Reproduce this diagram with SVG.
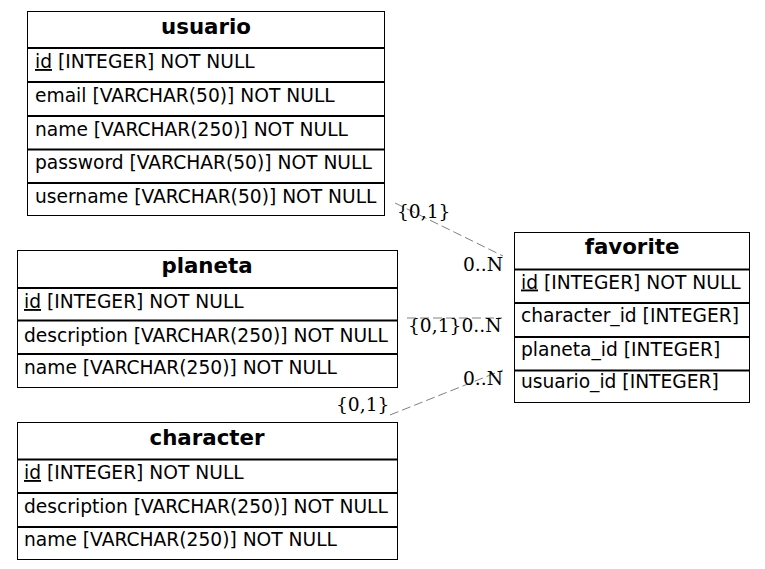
<svg xmlns="http://www.w3.org/2000/svg" width="765" height="569" viewBox="0 0 765 569">
  <style>
    .box { fill: #ffffff; stroke: #000000; stroke-width: 1; }
    .sep { stroke: #000000; stroke-width: 2; }
    .title { font-family: "DejaVu Sans", sans-serif; font-weight: bold; font-size: 21.33px; text-anchor: middle; fill: #000; }
    .col { font-family: "DejaVu Sans", sans-serif; font-size: 18.67px; fill: #000; }
    .pk { text-decoration: underline; }
    .rel { fill: none; stroke: #808080; stroke-width: 1; stroke-dasharray: 9,4; }
    .card { font-family: "DejaVu Serif", serif; font-size: 18.67px; fill: #000; }
  </style>
  <rect width="765" height="569" fill="#ffffff"/>

  <!-- relationships -->
  <g id="connectors">
    <path class="rel" d="M395,203 L503,256"/>
    <path class="rel" d="M407,318 L502,318"/>
    <path class="rel" d="M390,415 L503,370"/>
    <text class="card" x="397" y="218">{0,1}</text>
    <text class="card" x="463" y="271">0..N</text>
    <text class="card" x="408" y="332">{0,1}0..N</text>
    <text class="card" x="463" y="385">0..N</text>
    <text class="card" x="336" y="411">{0,1}</text>
  </g>

  <g id="usuario">
    <rect class="box" x="27.5" y="11.5" width="357" height="204"/>
    <line class="sep" x1="27" y1="48" x2="385" y2="48"/>
    <line class="sep" x1="27" y1="82" x2="385" y2="82"/>
    <line class="sep" x1="27" y1="116" x2="385" y2="116"/>
    <line class="sep" x1="27" y1="149.5" x2="385" y2="149.5"/>
    <line class="sep" x1="27" y1="183" x2="385" y2="183"/>
    <text class="title" x="206" y="34">usuario</text>
    <text class="col" x="35" y="68"><tspan class="pk">id</tspan> [INTEGER] NOT NULL</text>
    <text class="col" x="35" y="102">email [VARCHAR(50)] NOT NULL</text>
    <text class="col" x="35" y="136">name [VARCHAR(250)] NOT NULL</text>
    <text class="col" x="35" y="169">password [VARCHAR(50)] NOT NULL</text>
    <text class="col" x="35" y="203">username [VARCHAR(50)] NOT NULL</text>
  </g>

  <g id="planeta">
    <rect class="box" x="17.5" y="250.5" width="380" height="137"/>
    <line class="sep" x1="17" y1="288" x2="398" y2="288"/>
    <line class="sep" x1="17" y1="320.5" x2="398" y2="320.5"/>
    <line class="sep" x1="17" y1="354" x2="398" y2="354"/>
    <text class="title" x="207" y="273">planeta</text>
    <text class="col" x="24" y="308"><tspan class="pk">id</tspan> [INTEGER] NOT NULL</text>
    <text class="col" x="24" y="341.5">description [VARCHAR(250)] NOT NULL</text>
    <text class="col" x="24" y="374">name [VARCHAR(250)] NOT NULL</text>
  </g>

  <g id="character">
    <rect class="box" x="17.5" y="422.5" width="380" height="137"/>
    <line class="sep" x1="17" y1="459.5" x2="398" y2="459.5"/>
    <line class="sep" x1="17" y1="493" x2="398" y2="493"/>
    <line class="sep" x1="17" y1="527" x2="398" y2="527"/>
    <text class="title" x="207" y="444.5">character</text>
    <text class="col" x="24" y="479"><tspan class="pk">id</tspan> [INTEGER] NOT NULL</text>
    <text class="col" x="24" y="512.5">description [VARCHAR(250)] NOT NULL</text>
    <text class="col" x="24" y="545.5">name [VARCHAR(250)] NOT NULL</text>
  </g>

  <g id="favorite">
    <rect class="box" x="514.5" y="232.5" width="235" height="170"/>
    <line class="sep" x1="514" y1="269.5" x2="750" y2="269.5"/>
    <line class="sep" x1="514" y1="303" x2="750" y2="303"/>
    <line class="sep" x1="514" y1="337" x2="750" y2="337"/>
    <line class="sep" x1="514" y1="370.5" x2="750" y2="370.5"/>
    <text class="title" x="632" y="254">favorite</text>
    <text class="col" x="521" y="288.5"><tspan class="pk">id</tspan> [INTEGER] NOT NULL</text>
    <text class="col" x="521" y="322">character_id [INTEGER]</text>
    <text class="col" x="521" y="355.5">planeta_id [INTEGER]</text>
    <text class="col" x="521" y="388">usuario_id [INTEGER]</text>
  </g>
</svg>
